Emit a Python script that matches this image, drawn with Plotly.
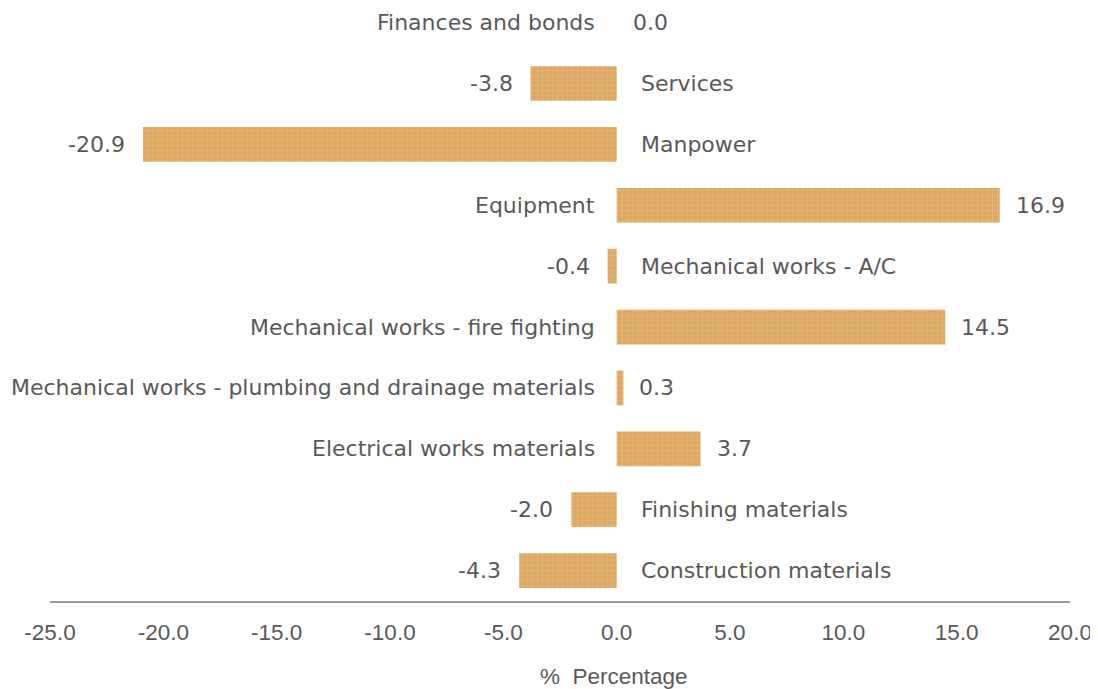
import plotly.graph_objects as go

categories = [
    "Construction materials",
    "Finishing materials",
    "Electrical works materials",
    "Mechanical works - plumbing and drainage materials",
    "Mechanical works - fire fighting",
    "Mechanical works - A/C",
    "Equipment",
    "Manpower",
    "Services",
    "Finances and bonds",
]
values = [-4.3, -2.0, 3.7, 0.3, 14.5, -0.4, 16.9, -20.9, -3.8, 0.0]
tick_vals = [-25, -20, -15, -10, -5, 0, 5, 10, 15, 20]
tick_text = ["-25.0", "-20.0", "-15.0", "-10.0", "-5.0", "0.0", "5.0", "10.0", "15.0", "20.0"]
x_title = "%  Percentage"

label_font = dict(family="DejaVu Sans", size=22, color="#595959")
tick_font = dict(family="Liberation Sans, Arial", size=22.5, color="#595959")

fig = go.Figure()
fig.add_trace(go.Bar(
    y=categories,
    x=values,
    orientation="h",
    marker=dict(
        color="#DCA862",
        line=dict(width=0),
        pattern=dict(shape="+", fgcolor="#F0D3A4", bgcolor="#DCA862", size=5, solidity=0.2),
    ),
    showlegend=False,
    hoverinfo="skip",
))

annotations = []
for cat, v in zip(categories, values):
    if v >= 0:
        annotations.append(dict(x=0, y=cat, text=cat, xanchor="right", xshift=-20,
                                showarrow=False, font=label_font))
        annotations.append(dict(x=v, y=cat, text=f"{v:.1f}", xanchor="left", xshift=14,
                                showarrow=False, font=label_font))
    else:
        annotations.append(dict(x=0, y=cat, text=cat, xanchor="left", xshift=22,
                                showarrow=False, font=label_font))
        annotations.append(dict(x=v, y=cat, text=f"{v:.1f}", xanchor="right", xshift=-16,
                                showarrow=False, font=label_font))

annotations.append(dict(x=0, xref="x", y=0, yref="paper", text=x_title,
                        xanchor="center", yanchor="middle", xshift=-3, yshift=-75,
                        showarrow=False, font=tick_font))

fig.update_layout(
    width=1098, height=689,
    margin=dict(l=42, r=36, t=0, b=96),
    plot_bgcolor="white", paper_bgcolor="white",
    bargap=0.43,
    annotations=annotations,
    xaxis=dict(
        range=[-25, 20],
        tickvals=tick_vals, ticktext=tick_text,
        tickfont=tick_font,
        showgrid=False, zeroline=False,
        showline=True, linecolor="#9A9A9A", linewidth=2,
        ticks="outside", ticklen=10, tickcolor="rgba(0,0,0,0)",
    ),
    yaxis=dict(
        range=[-0.5, 9.24],
        showticklabels=False, showgrid=False, zeroline=False, showline=False,
        ticks="",
    ),
)

fig.write_html("out.html")
